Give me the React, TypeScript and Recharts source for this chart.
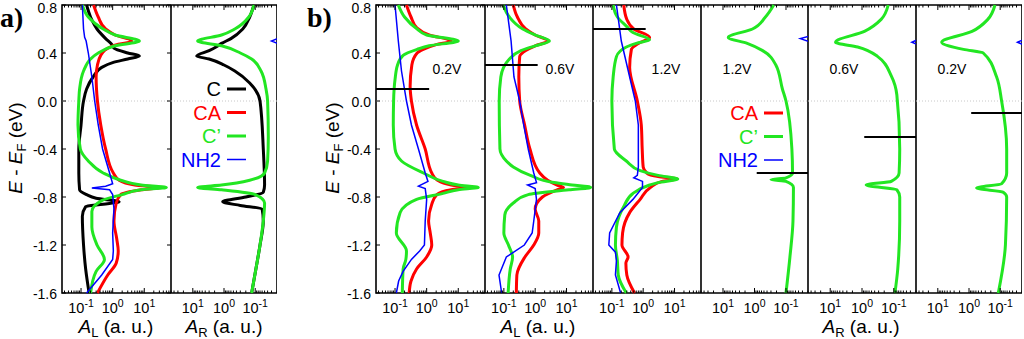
import React from "react";
import { LineChart, Line, XAxis, YAxis, ReferenceLine, ReferenceArea } from "recharts";

type Pair = [number, number];

const FONT = '"Liberation Sans", Arial, Helvetica, sans-serif';
const SERIF = '"Liberation Serif", "Times New Roman", serif';

const energyDomain: [number, number] = [-1.6, 0.8];
const energyTicks = [0.8, 0.4, 0.0, -0.4, -0.8, -1.2, -1.6];
const leftDomain: [number, number] = [0.025, 70];
const rightDomain: [number, number] = [0.02, 50];
const decades = [0.01, 0.1, 1, 10];

// panel a), left lead  [E, A]
const aL_C: Pair[] = [[0.8,0.15],[0.7,0.2],[0.6,0.32],[0.52,0.6],[0.47,0.95],[0.44,1.1],[0.4,3],[0.375,7],[0.35,3],[0.32,1.0],[0.28,0.45],[0.2,0.24],[0.1,0.15],[0.0,0.12],[-0.2,0.1],[-0.4,0.085],[-0.6,0.085],[-0.74,0.09],[-0.78,0.15],[-0.81,0.3],[-0.84,1.6],[-0.86,0.5],[-0.88,0.14],[-0.96,0.11],[-1.2,0.12],[-1.4,0.14],[-1.6,0.18]];
const aL_CA: Pair[] = [[0.8,0.25],[0.7,0.35],[0.6,0.6],[0.55,1.2],[0.5,4],[0.46,1.0],[0.42,0.55],[0.38,0.42],[0.3,0.33],[0.2,0.3],[0.0,0.33],[-0.2,0.42],[-0.4,0.6],[-0.6,1.05],[-0.66,1.6],[-0.7,5],[-0.72,30],[-0.74,8],[-0.78,1.8],[-0.85,1.3],[-1.0,1.1],[-1.15,1.35],[-1.25,1.5],[-1.35,1.3],[-1.45,0.7],[-1.6,0.33]];
const aL_Cp: Pair[] = [[0.8,0.11],[0.7,0.17],[0.6,0.5],[0.55,1.2],[0.5,7],[0.46,1.2],[0.4,0.35],[0.35,0.2],[0.25,0.12],[0.1,0.09],[0.0,0.085],[-0.2,0.08],[-0.4,0.095],[-0.5,0.17],[-0.6,0.5],[-0.66,1.8],[-0.7,8],[-0.72,50],[-0.74,8],[-0.78,2],[-0.83,0.45],[-0.92,0.22],[-1.05,0.22],[-1.2,0.32],[-1.32,0.55],[-1.42,0.3],[-1.6,0.2]];
const aL_NH2: Pair[] = [[0.8,0.11],[0.6,0.12],[0.53,0.13],[0.5,0.145],[0.4,0.17],[0.2,0.22],[0.0,0.27],[-0.2,0.35],[-0.4,0.48],[-0.6,0.8],[-0.69,1.0],[-0.71,0.6],[-0.725,0.22],[-0.74,0.8],[-0.78,1.0],[-0.9,1.1],[-1.1,1.0],[-1.25,1.05],[-1.32,1.0],[-1.45,0.45],[-1.6,0.15]];

// panel a), right lead
const aR_C: Pair[] = [[0.8,0.11],[0.7,0.15],[0.6,0.25],[0.52,0.6],[0.48,1.2],[0.45,1.8],[0.42,3],[0.375,7.5],[0.35,3],[0.3,1.0],[0.25,0.45],[0.15,0.15],[0.0,0.07],[-0.4,0.055],[-0.7,0.05],[-0.76,0.055],[-0.8,0.2],[-0.84,1.1],[-0.87,0.3],[-0.9,0.06],[-1.0,0.055],[-1.2,0.07],[-1.4,0.095],[-1.6,0.13]];
const aR_Cp: Pair[] = [[0.8,0.11],[0.7,0.16],[0.6,0.45],[0.55,1.2],[0.5,7],[0.46,1.2],[0.4,0.3],[0.35,0.13],[0.25,0.065],[0.1,0.045],[0.0,0.04],[-0.3,0.038],[-0.5,0.04],[-0.6,0.05],[-0.66,0.15],[-0.7,1.2],[-0.72,7],[-0.74,1.2],[-0.78,0.1],[-0.85,0.05],[-1.0,0.055],[-1.2,0.07],[-1.4,0.095],[-1.6,0.13]];
const aR_NH2: Pair[] = [[0.8,0.01],[0.55,0.01],[0.5,0.03],[0.45,0.01],[-1.6,0.01]];

// panel b), 0.2 V
const b02L_CA: Pair[] = [[0.8,0.23],[0.7,0.32],[0.61,0.49],[0.55,1.2],[0.5,6],[0.47,2.0],[0.43,0.78],[0.4,0.5],[0.3,0.34],[0.12,0.3],[0.0,0.33],[-0.2,0.48],[-0.4,0.9],[-0.6,1.45],[-0.66,2.2],[-0.7,6],[-0.72,23],[-0.74,6],[-0.78,2.1],[-0.86,1.45],[-1.0,1.15],[-1.1,1.3],[-1.2,1.45],[-1.3,1.0],[-1.4,0.48],[-1.5,0.32],[-1.6,0.28]];
const b02L_Cp: Pair[] = [[0.8,0.127],[0.7,0.2],[0.6,0.5],[0.55,1.0],[0.5,10],[0.46,1.2],[0.43,0.5],[0.38,0.18],[0.3,0.12],[0.18,0.1],[0.0,0.09],[-0.2,0.088],[-0.4,0.1],[-0.5,0.16],[-0.6,0.79],[-0.67,3.3],[-0.7,10],[-0.72,43],[-0.74,10],[-0.77,3.3],[-0.82,0.48],[-0.93,0.145],[-1.1,0.11],[-1.25,0.23],[-1.32,0.22],[-1.4,0.18],[-1.6,0.17]];
const b02L_NH2: Pair[] = [[0.8,0.1],[0.5,0.127],[0.25,0.16],[0.0,0.23],[-0.2,0.33],[-0.4,0.55],[-0.6,0.9],[-0.67,1.1],[-0.71,0.55],[-0.73,0.9],[-0.82,1.0],[-1.0,0.9],[-1.2,0.85],[-1.25,0.6],[-1.32,0.33],[-1.42,0.18],[-1.5,0.13],[-1.6,0.11]];
const b02R_Cp: Pair[] = [[0.8,0.147],[0.68,0.25],[0.58,0.8],[0.49,7.5],[0.43,1.5],[0.4,0.35],[0.2,0.13],[0.0,0.09],[-0.4,0.062],[-0.6,0.062],[-0.69,0.09],[-0.725,0.57],[-0.76,0.08],[-0.8,0.062],[-1.2,0.068],[-1.6,0.115]];
const b02R_NH2: Pair[] = [[0.8,0.01],[0.54,0.01],[0.49,0.028],[0.44,0.01],[-1.6,0.01]];

// panel b), 0.6 V
const b06L_CA: Pair[] = [[0.8,0.2],[0.7,0.27],[0.6,0.5],[0.55,1.0],[0.5,2.6],[0.46,1.0],[0.42,0.5],[0.37,0.32],[0.2,0.3],[0.0,0.32],[-0.2,0.46],[-0.4,0.68],[-0.6,1.4],[-0.66,2.5],[-0.7,5],[-0.72,8],[-0.74,5],[-0.8,1.7],[-0.9,1.0],[-1.0,1.3],[-1.1,1.3],[-1.2,0.9],[-1.3,0.47],[-1.45,0.26],[-1.6,0.25]];
const b06L_Cp: Pair[] = [[0.8,0.095],[0.7,0.15],[0.6,0.4],[0.55,1.0],[0.5,2.85],[0.46,1.0],[0.42,0.35],[0.35,0.15],[0.2,0.08],[0.0,0.071],[-0.4,0.075],[-0.5,0.12],[-0.55,0.2],[-0.62,0.7],[-0.68,4],[-0.7,15],[-0.72,59],[-0.74,12],[-0.78,0.6],[-0.85,0.2],[-0.95,0.107],[-1.1,0.1],[-1.2,0.14],[-1.3,0.19],[-1.4,0.16],[-1.6,0.137]];
const b06L_NH2: Pair[] = [[0.8,0.12],[0.5,0.17],[0.2,0.21],[0.0,0.32],[-0.2,0.43],[-0.4,0.6],[-0.6,0.9],[-0.68,1.1],[-0.7,0.57],[-0.73,1.0],[-0.82,1.1],[-1.0,0.9],[-1.1,0.8],[-1.2,0.45],[-1.3,0.12],[-1.45,0.07],[-1.6,0.085]];
const b06R_Cp: Pair[] = [[0.8,0.15],[0.68,0.25],[0.58,0.84],[0.49,6.8],[0.45,1.37],[0.37,0.32],[0.21,0.12],[0.05,0.08],[-0.4,0.065],[-0.6,0.068],[-0.67,0.12],[-0.7,0.74],[-0.74,0.08],[-0.8,0.065],[-1.0,0.065],[-1.4,0.075],[-1.6,0.092]];
const b06R_NH2: Pair[] = [[0.8,0.01],[0.54,0.01],[0.49,0.027],[0.44,0.01],[-1.6,0.01]];

// panel b), 1.2 V
const b12L_CA: Pair[] = [[0.8,0.24],[0.68,0.3],[0.6,0.5],[0.53,1.6],[0.48,0.7],[0.43,0.42],[0.28,0.37],[0.0,0.65],[-0.2,0.87],[-0.4,0.93],[-0.55,1.0],[-0.6,1.3],[-0.63,3],[-0.65,12],[-0.67,4],[-0.72,1.7],[-0.82,0.8],[-0.93,0.37],[-1.1,0.22],[-1.2,0.21],[-1.3,0.33],[-1.35,0.28],[-1.45,0.3],[-1.6,0.53]];
const b12L_Cp: Pair[] = [[0.8,0.11],[0.7,0.15],[0.62,0.3],[0.57,0.47],[0.51,1.6],[0.48,0.6],[0.45,0.29],[0.37,0.14],[0.2,0.11],[0.0,0.1],[-0.4,0.12],[-0.5,0.29],[-0.58,0.8],[-0.62,3],[-0.65,12.7],[-0.68,3],[-0.7,1.6],[-0.77,0.47],[-0.87,0.25],[-1.05,0.14],[-1.2,0.13],[-1.33,0.15],[-1.45,0.16],[-1.6,0.29]];
const b12L_NH2: Pair[] = [[0.8,0.14],[0.5,0.2],[0.2,0.37],[0.0,0.56],[-0.2,0.7],[-0.4,0.7],[-0.55,0.7],[-0.62,0.65],[-0.64,0.5],[-0.67,0.95],[-0.72,0.95],[-0.82,0.47],[-0.93,0.18],[-1.1,0.085],[-1.2,0.08],[-1.26,0.13],[-1.33,0.14],[-1.45,0.13],[-1.6,0.19]];
const b12R_Cp: Pair[] = [[0.8,0.245],[0.7,0.45],[0.6,1.16],[0.53,6.8],[0.48,1.7],[0.42,0.55],[0.3,0.21],[0.1,0.13],[0.0,0.1],[-0.4,0.065],[-0.6,0.062],[-0.64,0.1],[-0.655,0.3],[-0.67,0.1],[-0.72,0.058],[-1.0,0.06],[-1.3,0.075],[-1.6,0.1]];
const b12R_NH2: Pair[] = [[0.8,0.01],[0.56,0.01],[0.52,0.035],[0.47,0.01],[-1.6,0.01]];

// how far the electrode chemical-potential markers reach into each panel
const muReachL = 1.2;
const muReachR = 0.85;

const STYLE: Record<string, { stroke: string; w: number; type: "monotone" | "linear" }> = {
  C: { stroke: "#000000", w: 3, type: "monotone" },
  CA: { stroke: "#ff0000", w: 3, type: "monotone" },
  Cp: { stroke: "#22e622", w: 3, type: "monotone" },
  NH2: { stroke: "#0000ff", w: 1.5, type: "linear" },
};
const ORDER = ["C", "CA", "Cp", "NH2"];

type PanelDef = {
  left: number;
  width: number;
  side: "L" | "R";
  yLabels?: boolean;
  mu?: number;
  series: Record<string, Pair[]>;
};

const panels: PanelDef[] = [
  { left: 62, width: 109, side: "L", yLabels: true, series: { C: aL_C, CA: aL_CA, Cp: aL_Cp, NH2: aL_NH2 } },
  { left: 171, width: 106, side: "R", series: { C: aR_C, Cp: aR_Cp, NH2: aR_NH2 } },
  { left: 376, width: 109, side: "L", yLabels: true, mu: 0.1, series: { CA: b02L_CA, Cp: b02L_Cp, NH2: b02L_NH2 } },
  { left: 485, width: 108, side: "L", mu: 0.3, series: { CA: b06L_CA, Cp: b06L_Cp, NH2: b06L_NH2 } },
  { left: 593, width: 108, side: "L", mu: 0.6, series: { CA: b12L_CA, Cp: b12L_Cp, NH2: b12L_NH2 } },
  { left: 701, width: 107, side: "R", mu: -0.6, series: { Cp: b12R_Cp, NH2: b12R_NH2 } },
  { left: 808, width: 108, side: "R", mu: -0.3, series: { Cp: b06R_Cp, NH2: b06R_NH2 } },
  { left: 916, width: 106, side: "R", mu: -0.1, series: { Cp: b02R_Cp, NH2: b02R_NH2 } },
];

const rows = (pts: Pair[]) => pts.map(([E, A]) => ({ E, A }));

function logTicks(dom: [number, number]) {
  const out: number[] = [];
  decades.forEach((d) => {
    for (let k = 1; k < 10; k++) {
      const v = k * d;
      if (v >= dom[0] * 0.999 && v <= dom[1] * 1.001) out.push(v);
    }
  });
  return out;
}

function XTick(props: any) {
  const { x, y, payload, plotH } = props;
  const lg = Math.log10(payload.value);
  const major = Math.abs(lg - Math.round(lg)) < 1e-6;
  const len = major ? 5 : 2.5;
  return (
    <g>
      <line x1={x} y1={y} x2={x} y2={y - len} stroke="#000" strokeWidth={1} />
      <line x1={x} y1={y - plotH} x2={x} y2={y - plotH + len} stroke="#000" strokeWidth={1} />
      {major && (
        <text x={x} y={y + 20} textAnchor="middle" fontSize={14.5} fontFamily={FONT} fill="#000">
          10<tspan dy={-6} fontSize={10.5}>{Math.round(lg)}</tspan>
        </text>
      )}
    </g>
  );
}

function YTick(props: any) {
  const { x, y, payload, plotW, showLabel } = props;
  const v = Number(payload.value);
  // the top label sits against the page edge, nudge it down a little
  const dy = v >= energyDomain[1] ? "0.55em" : "0.4em";
  return (
    <g>
      <line x1={x} y1={y} x2={x + 4} y2={y} stroke="#000" strokeWidth={1} />
      <line x1={x + plotW} y1={y} x2={x + plotW - 4} y2={y} stroke="#000" strokeWidth={1} />
      {showLabel && (
        <text x={x - 5} y={y} dy={dy} textAnchor="end" fontSize={14} fontFamily={FONT} fill="#000">
          {v.toFixed(1)}
        </text>
      )}
    </g>
  );
}

function Panel({ p }: { p: PanelDef }) {
  const H = 339;
  const top = 5;
  const xh = 46;
  const plotH = H - top - xh;
  const yw = p.yLabels ? 50 : 0;
  const dom = p.side === "L" ? leftDomain : rightDomain;
  const reach = p.side === "L" ? muReachL : muReachR;
  return (
    <div style={{ position: "absolute", left: p.left - yw, top: 0 }}>
      <LineChart layout="vertical" width={p.width + yw} height={H} margin={{ top, right: 0, bottom: 0, left: 0 }}>
        <XAxis
          type="number"
          scale="log"
          domain={dom}
          allowDataOverflow
          reversed={p.side === "R"}
          ticks={logTicks(dom)}
          interval={0}
          height={xh}
          axisLine={false}
          tickLine={false}
          tickSize={0}
          tickMargin={0}
          tick={(t: any) => <XTick {...t} plotH={plotH} />}
        />
        <YAxis
          type="number"
          dataKey="E"
          domain={energyDomain}
          reversed
          ticks={energyTicks}
          interval={0}
          width={yw}
          axisLine={false}
          tickLine={false}
          tickSize={0}
          tickMargin={0}
          tick={(t: any) => <YTick {...t} plotW={p.width} showLabel={!!p.yLabels} />}
        />
        <ReferenceLine y={0} stroke="#c8c8c8" strokeDasharray="1 2" strokeWidth={1} />
        {ORDER.filter((k) => p.series[k]).map((k) => (
          <Line
            key={k}
            data={rows(p.series[k])}
            dataKey="A"
            type={STYLE[k].type}
            stroke={STYLE[k].stroke}
            strokeWidth={STYLE[k].w}
            dot={false}
            activeDot={false}
            isAnimationActive={false}
          />
        ))}
        {p.mu !== undefined && (
          <ReferenceLine
            segment={[
              { x: p.side === "L" ? dom[0] : reach, y: p.mu },
              { x: p.side === "L" ? reach : dom[0], y: p.mu },
            ]}
            stroke="#000"
            strokeWidth={2}
          />
        )}
        <ReferenceArea x1={dom[0]} x2={dom[1]} y1={energyDomain[0]} y2={energyDomain[1]} fill="none" fillOpacity={0} stroke="#000" strokeWidth={1.6} />
      </LineChart>
    </div>
  );
}

const legendA = [
  { key: "C", label: "C" },
  { key: "CA", label: "CA" },
  { key: "Cp", label: "C\u2019" },
  { key: "NH2", label: "NH2" },
];
const legendB = legendA.slice(1);
const biasLabels = [
  { text: "0.2V", x: 447 },
  { text: "0.6V", x: 560 },
  { text: "1.2V", x: 666 },
  { text: "1.2V", x: 737 },
  { text: "0.6V", x: 844 },
  { text: "0.2V", x: 952 },
];

function Legend({ items, right, y0 }: { items: typeof legendA; right: number; y0: number }) {
  return (
    <g>
      {items.map((it, i) => (
        <g key={it.key}>
          <text x={right} y={y0 + i * 23.5} dy="0.36em" textAnchor="end" fontSize={20} fontFamily={FONT} fill={STYLE[it.key].stroke}>
            {it.label}
          </text>
          <line x1={right + 6} x2={right + 25} y1={y0 + i * 23.5} y2={y0 + i * 23.5} stroke={STYLE[it.key].stroke} strokeWidth={STYLE[it.key].w} />
        </g>
      ))}
    </g>
  );
}

function AxisTitleE({ x }: { x: number }) {
  return (
    <text transform={`translate(${x},148) rotate(-90)`} textAnchor="middle" fontSize={19} fontFamily={FONT} fill="#000">
      <tspan fontStyle="italic">E</tspan> - <tspan fontStyle="italic">E</tspan>
      <tspan dy={4} fontSize={13}>F</tspan>
      <tspan dy={-4}> (eV)</tspan>
    </text>
  );
}

function AxisTitleA({ x, sub }: { x: number; sub: string }) {
  return (
    <text x={x} y={333} textAnchor="middle" fontSize={19} fontFamily={FONT} fill="#000">
      <tspan fontStyle="italic">A</tspan>
      <tspan dy={4} fontSize={13}>{sub}</tspan>
      <tspan dy={-4}> (a. u.)</tspan>
    </text>
  );
}

export default function App() {
  return (
    <div style={{ position: "absolute", left: 0, top: 0, width: 1024, height: 339, background: "#fff", overflow: "hidden" }}>
      {panels.map((p, i) => (
        <Panel key={i} p={p} />
      ))}
      <svg width={1024} height={339} style={{ position: "absolute", left: 0, top: 0, pointerEvents: "none" }}>
        <text x={0} y={27} fontFamily={SERIF} fontWeight="bold" fontSize={28} fill="#000">a)</text>
        <text x={307} y={27} fontFamily={SERIF} fontWeight="bold" fontSize={28} fill="#000">b)</text>
        <AxisTitleE x={22} />
        <AxisTitleE x={339} />
        <AxisTitleA x={116} sub="L" />
        <AxisTitleA x={224} sub="R" />
        <AxisTitleA x={538} sub="L" />
        <AxisTitleA x={861} sub="R" />
        <Legend items={legendA} right={221} y0={89} />
        <Legend items={legendB} right={758} y0={113} />
        {biasLabels.map((b, i) => (
          <text key={i} x={b.x} y={69} dy="0.36em" textAnchor="middle" fontSize={14} fontFamily={FONT} fill="#000">
            {b.text}
          </text>
        ))}
      </svg>
    </div>
  );
}
